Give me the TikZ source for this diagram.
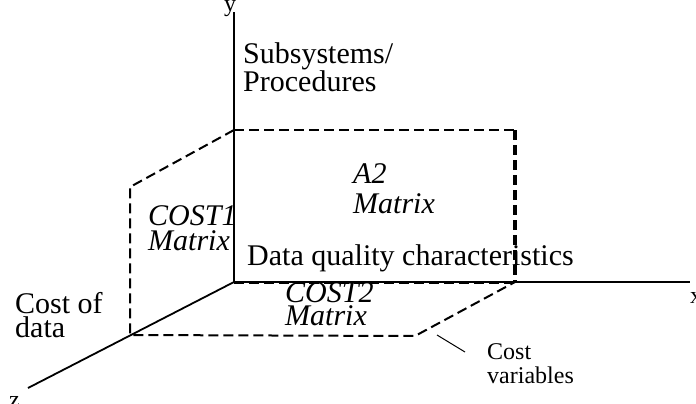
\documentclass[tikz,border=0pt]{standalone}
\usepackage{fontspec}
\setmainfont{Liberation Serif}
\begin{document}
\begin{tikzpicture}[x=1pt,y=-1pt,
    axis/.style={line width=1.8pt},
    face/.style={line width=2pt,dash pattern=on 10pt off 5pt},
    bold face/.style={line width=3.6pt,dash pattern=on 10pt off 5pt},
    lbl/.style={inner sep=0pt,anchor=base west,align=left,
      font=\fontsize{30}{26}\selectfont},
    small lbl/.style={inner sep=0pt,anchor=base west,align=left,
      font=\fontsize{24}{24}\selectfont}]
  \useasboundingbox (0,0) rectangle (696,404);
  % axes
  \coordinate (O) at (234,282);
  \coordinate (ytip) at (234,12);
  \coordinate (xtip) at (690,282);
  \coordinate (ztip) at (28,388);
  \draw[axis] (O) -- (ytip);
  \draw[axis] (O) -- (xtip);
  \draw[axis] (O) -- (ztip);
  \node[small lbl] (y) at (224,12) {y};
  \node[small lbl] (x) at (690,303) {x};
  \node[small lbl] (z) at (9,407) {z};
  % corners of the matrices
  \coordinate (a) at (234,130);
  \coordinate (b) at (515,130);
  \coordinate (c) at (515,282);
  \coordinate (d) at (130,187);
  \coordinate (e) at (130,335);
  \coordinate (f) at (415,336);
  \begin{scope}[face]
    \draw (a) -- (b);
    \draw (a) -- (d) -- (e) -- (f) -- (c);
    \draw ([yshift=-1pt]O) -- ([yshift=-1pt]c);
  \end{scope}
  \draw[bold face] (b) -- (c);
  % texts (anchored at the baseline of the last line)
  \node[lbl] (subsys) at (243,92) {Subsystems/\\Procedures};
  \node[lbl,font=\fontsize{30}{25}\selectfont\itshape] (cost1) at (148,250) {COST1\\Matrix};
  \node[lbl,font=\fontsize{30}{30}\selectfont\itshape] (a2) at (353,213) {A2\\Matrix};
  \node[lbl] (dqc) at (247,265) {Data quality characteristics};
  \node[lbl,font=\fontsize{30}{23}\selectfont\itshape] (cost2) at (285,325) {COST2\\Matrix};
  \node[lbl,font=\fontsize{30}{24}\selectfont] (costdata) at (15,337) {Cost of\\data};
  \node[small lbl] (costvar) at (487,383) {Cost\\variables};
  \coordinate (leadA) at (437,335);
  \coordinate (leadB) at (465,352);
  \draw[line width=1pt] (leadA) -- (leadB);
\end{tikzpicture}
\end{document}
